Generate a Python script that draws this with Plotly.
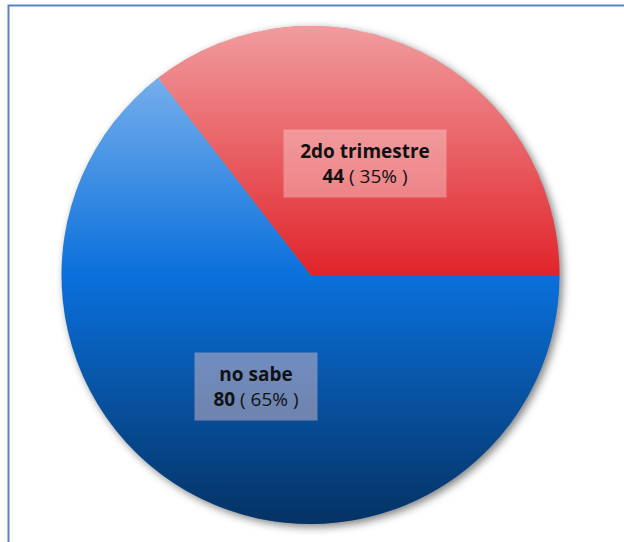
import base64
import math

import plotly.graph_objects as go

# Data
categories = ["2do trimestre", "no sabe"]
counts = [44, 80]
slice_colors = ["#e0242a", "#0a70dc"]
label_boxes = ["rgba(255,255,255,0.32)", "rgba(236,198,202,0.46)"]
label_box_widths = [146, 106]

# Canvas and pie geometry (pixels)
W, H = 624, 542
CX, CY, R = 310.5, 275.0, 249.0


def px_to_paper_x(px):
    return px / W


def px_to_paper_y(py):
    return 1 - py / H


def svg_uri(svg):
    return "data:image/svg+xml;base64," + base64.b64encode(svg.encode()).decode()


total = sum(counts)
first_share = counts[0] / total

# Vertical light-to-dark sheen laid over the pie
sheen_svg = (
    "<svg xmlns='http://www.w3.org/2000/svg' width='500' height='500' viewBox='0 0 500 500'>"
    "<defs><linearGradient id='g' x1='0' y1='0' x2='0' y2='1'>"
    "<stop offset='0' stop-color='#ffffff' stop-opacity='0.55'/>"
    "<stop offset='0.5' stop-color='#ffffff' stop-opacity='0'/>"
    "<stop offset='0.5' stop-color='#000000' stop-opacity='0'/>"
    "<stop offset='1' stop-color='#000000' stop-opacity='0.55'/>"
    "</linearGradient></defs>"
    "<circle cx='250' cy='250' r='250' fill='url(#g)'/></svg>"
)

# Soft drop shadow under the pie
SH_PAD = 24
sh_size = 2 * (R + SH_PAD)
shadow_svg = (
    f"<svg xmlns='http://www.w3.org/2000/svg' width='{sh_size}' height='{sh_size}' "
    f"viewBox='0 0 {sh_size} {sh_size}'>"
    "<defs><filter id='f' x='-20%' y='-20%' width='140%' height='140%'>"
    "<feGaussianBlur stdDeviation='4'/></filter></defs>"
    f"<circle cx='{sh_size/2}' cy='{sh_size/2}' r='{R}' fill='#000' fill-opacity='0.5' filter='url(#f)'/></svg>"
)
SH_DX, SH_DY = 3, 3

# The first slice rises counterclockwise from 3 o'clock
fig = go.Figure(
    go.Pie(
        labels=categories,
        values=counts,
        sort=False,
        direction="clockwise",
        rotation=90 - 360 * first_share,
        marker=dict(colors=slice_colors, line=dict(width=0)),
        textinfo="none",
        hoverinfo="label+value+percent",
        domain=dict(
            x=[px_to_paper_x(CX - R), px_to_paper_x(CX + R)],
            y=[px_to_paper_y(CY + R), px_to_paper_y(CY - R)],
        ),
        showlegend=False,
    )
)

# Labels placed at half radius along each slice's mid-angle
annotations = []
start = 0.0
for name, val, box, bw in zip(categories, counts, label_boxes, label_box_widths):
    frac = val / total
    mid = (start + frac / 2) * 2 * math.pi  # counterclockwise from 3 o'clock
    start += frac
    lx = CX + 0.5 * R * math.cos(mid)
    ly = CY - 0.5 * R * math.sin(mid)
    pct = round(frac * 100)
    annotations.append(
        dict(
            x=px_to_paper_x(lx),
            y=px_to_paper_y(ly),
            xref="paper",
            yref="paper",
            xanchor="center",
            yanchor="middle",
            showarrow=False,
            text=f"<b>{name}</b><br><b>{val}</b> ( {pct}% )",
            font=dict(family="Open Sans", size=19, color="#111111"),
            bgcolor=box,
            borderpad=8,
            width=bw,
            align="center",
        )
    )

images = [
    dict(
        source=svg_uri(shadow_svg),
        xref="paper",
        yref="paper",
        x=px_to_paper_x(CX - R - SH_PAD + SH_DX),
        y=px_to_paper_y(CY - R - SH_PAD + SH_DY),
        sizex=sh_size / W,
        sizey=sh_size / H,
        xanchor="left",
        yanchor="top",
        sizing="stretch",
        layer="below",
    ),
    dict(
        source=svg_uri(sheen_svg),
        xref="paper",
        yref="paper",
        x=px_to_paper_x(CX - R),
        y=px_to_paper_y(CY - R),
        sizex=2 * R / W,
        sizey=2 * R / H,
        xanchor="left",
        yanchor="top",
        sizing="stretch",
        layer="above",
    ),
]

# Frame around the chart area
shapes = [
    dict(
        type="rect",
        xref="paper",
        yref="paper",
        x0=px_to_paper_x(8.5),
        x1=1.2,
        y0=-0.2,
        y1=px_to_paper_y(5.5),
        line=dict(color="#5a84c2", width=2),
        fillcolor="rgba(0,0,0,0)",
        layer="below",
    )
]

fig.update_layout(
    width=W,
    height=H,
    margin=dict(l=0, r=0, t=0, b=0),
    paper_bgcolor="white",
    plot_bgcolor="white",
    annotations=annotations,
    images=images,
    shapes=shapes,
)

fig.write_html("out.html")
